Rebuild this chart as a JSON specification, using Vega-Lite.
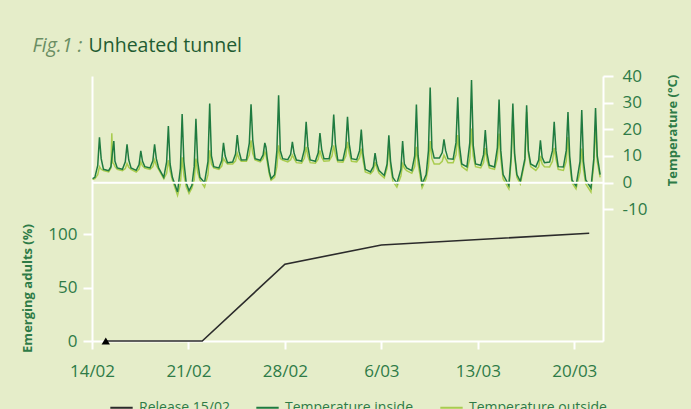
{
"$schema":"https://vega.github.io/schema/vega-lite/v6.json",
"width":511,"height":265,
"autosize":{"type":"none"},
"padding":{"left":92,"top":76,"right":88,"bottom":68},
"background":"#e5edc9",
"config":{"view":{"stroke":null},"font":"Open Sans",
"legend":{"orient":"none","legendX":17,"legendY":319,"direction":"horizontal","title":null,"labelFont":"Open Sans","labelFontSize":14,"labelColor":"#2e7b47","symbolType":"stroke","symbolSize":500,"symbolStrokeWidth":2,"columnPadding":22,"labelOffset":5}},
"datasets":{
"temp":[
{"t":"2020-02-14T01:00","i":1.5,"o":1.2},{"t":"2020-02-14T05:00","i":2.0,"o":1.5},{"t":"2020-02-14T10:00","i":6.5,"o":3.0},{"t":"2020-02-14T13:00","i":17.0,"o":6.0},{"t":"2020-02-14T16:00","i":9.0,"o":5.0},{"t":"2020-02-14T20:00","i":5.0,"o":4.5},
{"t":"2020-02-15T05:00","i":4.5,"o":4.0},{"t":"2020-02-15T09:00","i":6.0,"o":5.5},{"t":"2020-02-15T10:30","i":9.0,"o":18.5},{"t":"2020-02-15T12:00","i":12.0,"o":7.5},{"t":"2020-02-15T14:00","i":15.6,"o":7.0},{"t":"2020-02-15T16:00","i":8.0,"o":6.0},{"t":"2020-02-15T20:00","i":5.5,"o":5.0},
{"t":"2020-02-16T05:00","i":5.0,"o":4.5},{"t":"2020-02-16T10:00","i":7.8,"o":5.3},{"t":"2020-02-16T13:00","i":14.4,"o":7.2},{"t":"2020-02-16T16:00","i":8.5,"o":5.8},{"t":"2020-02-16T20:00","i":5.5,"o":5.0},
{"t":"2020-02-17T05:00","i":4.6,"o":4.0},{"t":"2020-02-17T10:00","i":6.8,"o":5.1},{"t":"2020-02-17T13:00","i":11.9,"o":7.7},{"t":"2020-02-17T16:00","i":8.0,"o":6.3},{"t":"2020-02-17T20:00","i":6.0,"o":5.5},
{"t":"2020-02-18T05:00","i":5.5,"o":5.0},{"t":"2020-02-18T10:00","i":8.2,"o":6.0},{"t":"2020-02-18T13:00","i":14.4,"o":8.5},{"t":"2020-02-18T16:00","i":9.0,"o":6.5},{"t":"2020-02-18T20:00","i":5.5,"o":5.0},
{"t":"2020-02-19T05:00","i":2.0,"o":1.5},{"t":"2020-02-19T10:00","i":7.8,"o":3.5},{"t":"2020-02-19T13:00","i":21.2,"o":8.4},{"t":"2020-02-19T16:00","i":7.0,"o":4.5},{"t":"2020-02-19T20:00","i":2.0,"o":1.0},
{"t":"2020-02-20T05:00","i":-3.5,"o":-4.8},{"t":"2020-02-20T10:00","i":5.5,"o":-0.5},{"t":"2020-02-20T13:00","i":25.7,"o":9.5},{"t":"2020-02-20T16:00","i":8.0,"o":3.0},{"t":"2020-02-20T20:00","i":0.0,"o":-1.5},
{"t":"2020-02-21T01:00","i":-3.0,"o":-4.1},{"t":"2020-02-21T06:00","i":-1.0,"o":-2.0},{"t":"2020-02-21T10:00","i":6.0,"o":1.0},{"t":"2020-02-21T13:00","i":24.0,"o":9.0},{"t":"2020-02-21T16:00","i":8.0,"o":4.0},{"t":"2020-02-21T20:00","i":2.0,"o":1.0},
{"t":"2020-02-22T04:00","i":0.0,"o":-1.7},{"t":"2020-02-22T10:00","i":8.0,"o":3.0},{"t":"2020-02-22T13:00","i":29.7,"o":12.1},{"t":"2020-02-22T16:00","i":10.0,"o":7.0},{"t":"2020-02-22T20:00","i":6.0,"o":5.5},
{"t":"2020-02-23T05:00","i":5.5,"o":5.0},{"t":"2020-02-23T10:00","i":8.3,"o":6.2},{"t":"2020-02-23T13:00","i":14.9,"o":9.0},{"t":"2020-02-23T16:00","i":10.0,"o":8.0},{"t":"2020-02-23T20:00","i":7.5,"o":7.0},
{"t":"2020-02-24T05:00","i":7.7,"o":7.0},{"t":"2020-02-24T10:00","i":10.7,"o":8.2},{"t":"2020-02-24T13:00","i":17.8,"o":11.0},{"t":"2020-02-24T16:00","i":11.8,"o":9.0},{"t":"2020-02-24T20:00","i":8.5,"o":8.0},
{"t":"2020-02-25T05:00","i":8.6,"o":8.0},{"t":"2020-02-25T10:00","i":14.8,"o":10.4},{"t":"2020-02-25T13:00","i":29.4,"o":15.9},{"t":"2020-02-25T16:00","i":16.0,"o":11.0},{"t":"2020-02-25T20:00","i":9.0,"o":8.5},
{"t":"2020-02-26T05:00","i":8.4,"o":7.8},{"t":"2020-02-26T10:00","i":10.4,"o":9.0},{"t":"2020-02-26T13:00","i":14.9,"o":11.5},{"t":"2020-02-26T15:00","i":13.3,"o":10.5},{"t":"2020-02-26T17:00","i":9.5,"o":8.0},{"t":"2020-02-26T21:00","i":4.0,"o":3.0},
{"t":"2020-02-27T00:00","i":1.5,"o":0.9},{"t":"2020-02-27T06:00","i":3.0,"o":2.0},{"t":"2020-02-27T10:00","i":12.0,"o":6.0},{"t":"2020-02-27T13:00","i":32.8,"o":14.0},{"t":"2020-02-27T16:00","i":12.0,"o":9.0},{"t":"2020-02-27T20:00","i":9.0,"o":8.5},
{"t":"2020-02-28T05:00","i":8.6,"o":7.8},{"t":"2020-02-28T10:00","i":10.6,"o":8.6},{"t":"2020-02-28T13:00","i":15.3,"o":10.3},{"t":"2020-02-28T16:00","i":11.0,"o":9.0},{"t":"2020-02-28T20:00","i":8.5,"o":7.5},
{"t":"2020-02-29T05:00","i":8.1,"o":7.3},{"t":"2020-02-29T10:00","i":12.5,"o":9.2},{"t":"2020-02-29T13:00","i":22.8,"o":13.4},{"t":"2020-02-29T16:00","i":13.5,"o":10.0},{"t":"2020-02-29T20:00","i":8.5,"o":7.5},
{"t":"2020-03-01T05:00","i":8.0,"o":7.3},{"t":"2020-03-01T10:00","i":11.2,"o":8.8},{"t":"2020-03-01T13:00","i":18.6,"o":12.1},{"t":"2020-03-01T16:00","i":12.5,"o":9.5},{"t":"2020-03-01T20:00","i":9.0,"o":8.0},
{"t":"2020-03-02T05:00","i":9.0,"o":8.2},{"t":"2020-03-02T10:00","i":14.0,"o":10.0},{"t":"2020-03-02T13:00","i":25.5,"o":14.0},{"t":"2020-03-02T16:00","i":14.5,"o":10.5},{"t":"2020-03-02T20:00","i":8.5,"o":7.8},
{"t":"2020-03-03T05:00","i":8.4,"o":7.7},{"t":"2020-03-03T10:00","i":13.3,"o":10.0},{"t":"2020-03-03T13:00","i":24.7,"o":15.3},{"t":"2020-03-03T16:00","i":14.5,"o":11.0},{"t":"2020-03-03T20:00","i":9.0,"o":8.0},
{"t":"2020-03-04T05:00","i":8.6,"o":7.8},{"t":"2020-03-04T10:00","i":12.0,"o":9.3},{"t":"2020-03-04T13:00","i":19.9,"o":12.8},{"t":"2020-03-04T16:00","i":11.0,"o":8.5},{"t":"2020-03-04T20:00","i":5.0,"o":4.0},
{"t":"2020-03-05T05:00","i":4.0,"o":3.3},{"t":"2020-03-05T10:00","i":6.0,"o":4.5},{"t":"2020-03-05T13:00","i":11.1,"o":7.7},{"t":"2020-03-05T16:00","i":7.0,"o":5.5},{"t":"2020-03-05T20:00","i":4.5,"o":3.5},
{"t":"2020-03-06T05:00","i":2.7,"o":1.8},{"t":"2020-03-06T10:00","i":7.0,"o":5.5},{"t":"2020-03-06T13:00","i":17.8,"o":14.7},{"t":"2020-03-06T16:00","i":8.0,"o":6.0},{"t":"2020-03-06T20:00","i":2.0,"o":0.5},
{"t":"2020-03-07T03:00","i":-0.3,"o":-1.7},{"t":"2020-03-07T10:00","i":5.0,"o":2.5},{"t":"2020-03-07T13:00","i":15.6,"o":7.0},{"t":"2020-03-07T16:00","i":7.0,"o":5.5},{"t":"2020-03-07T20:00","i":5.5,"o":4.5},
{"t":"2020-03-08T05:00","i":4.5,"o":3.5},{"t":"2020-03-08T10:00","i":10.0,"o":6.0},{"t":"2020-03-08T13:00","i":29.3,"o":13.4},{"t":"2020-03-08T16:00","i":10.0,"o":7.0},{"t":"2020-03-08T23:00","i":-0.5,"o":-1.9},
{"t":"2020-03-09T06:00","i":3.0,"o":1.5},{"t":"2020-03-09T10:00","i":12.0,"o":6.0},{"t":"2020-03-09T13:00","i":35.7,"o":15.6},{"t":"2020-03-09T16:00","i":13.0,"o":9.0},{"t":"2020-03-09T20:00","i":9.2,"o":7.0},
{"t":"2020-03-10T05:00","i":9.2,"o":7.0},{"t":"2020-03-10T10:00","i":11.3,"o":8.0},{"t":"2020-03-10T13:00","i":16.2,"o":10.3},{"t":"2020-03-10T16:00","i":12.0,"o":9.0},{"t":"2020-03-10T20:00","i":9.0,"o":7.5},
{"t":"2020-03-11T05:00","i":8.8,"o":7.5},{"t":"2020-03-11T10:00","i":15.0,"o":10.5},{"t":"2020-03-11T13:00","i":32.0,"o":17.8},{"t":"2020-03-11T16:00","i":14.0,"o":10.0},{"t":"2020-03-11T20:00","i":7.0,"o":6.0},
{"t":"2020-03-12T05:00","i":5.9,"o":4.6},{"t":"2020-03-12T10:00","i":15.0,"o":9.0},{"t":"2020-03-12T13:00","i":38.5,"o":20.3},{"t":"2020-03-12T16:00","i":14.0,"o":10.0},{"t":"2020-03-12T20:00","i":7.0,"o":6.0},
{"t":"2020-03-13T05:00","i":6.5,"o":5.5},{"t":"2020-03-13T10:00","i":10.5,"o":7.5},{"t":"2020-03-13T13:00","i":19.7,"o":13.0},{"t":"2020-03-13T16:00","i":11.0,"o":8.5},{"t":"2020-03-13T20:00","i":6.5,"o":5.5},
{"t":"2020-03-14T05:00","i":5.9,"o":5.0},{"t":"2020-03-14T10:00","i":13.0,"o":9.0},{"t":"2020-03-14T13:00","i":31.2,"o":18.4},{"t":"2020-03-14T16:00","i":12.0,"o":9.0},{"t":"2020-03-14T20:00","i":3.0,"o":1.5},
{"t":"2020-03-15T06:00","i":-1.0,"o":-2.3},{"t":"2020-03-15T10:00","i":10.0,"o":8.0},{"t":"2020-03-15T13:00","i":29.7,"o":25.9},{"t":"2020-03-15T16:00","i":11.0,"o":10.0},{"t":"2020-03-15T20:00","i":3.0,"o":2.0},
{"t":"2020-03-16T02:00","i":0.5,"o":-0.5},{"t":"2020-03-16T10:00","i":9.0,"o":8.0},{"t":"2020-03-16T13:00","i":29.0,"o":26.5},{"t":"2020-03-16T16:00","i":12.0,"o":11.0},{"t":"2020-03-16T20:00","i":7.0,"o":6.0},
{"t":"2020-03-17T05:00","i":5.9,"o":4.6},{"t":"2020-03-17T10:00","i":8.5,"o":6.0},{"t":"2020-03-17T13:00","i":15.9,"o":10.0},{"t":"2020-03-17T16:00","i":9.5,"o":7.0},{"t":"2020-03-17T20:00","i":7.5,"o":6.0},
{"t":"2020-03-18T05:00","i":7.7,"o":5.9},{"t":"2020-03-18T10:00","i":12.0,"o":8.0},{"t":"2020-03-18T13:00","i":22.8,"o":13.0},{"t":"2020-03-18T16:00","i":12.0,"o":9.0},{"t":"2020-03-18T20:00","i":6.0,"o":5.0},
{"t":"2020-03-19T05:00","i":5.9,"o":4.6},{"t":"2020-03-19T10:00","i":12.0,"o":8.0},{"t":"2020-03-19T13:00","i":26.5,"o":17.1},{"t":"2020-03-19T16:00","i":10.0,"o":7.0},{"t":"2020-03-19T20:00","i":1.0,"o":0.0},
{"t":"2020-03-20T03:00","i":-1.2,"o":-2.3},{"t":"2020-03-20T10:00","i":8.0,"o":4.0},{"t":"2020-03-20T13:00","i":27.2,"o":12.8},{"t":"2020-03-20T16:00","i":8.0,"o":5.0},{"t":"2020-03-20T20:00","i":1.0,"o":-0.5},
{"t":"2020-03-21T05:00","i":-2.0,"o":-3.5},{"t":"2020-03-21T10:00","i":9.0,"o":7.0},{"t":"2020-03-21T13:00","i":28.0,"o":21.5},{"t":"2020-03-21T16:00","i":10.0,"o":8.0},{"t":"2020-03-21T21:00","i":3.0,"o":2.0}
],
"rel":[{"d":"2020-02-15T00:00","v":0},{"d":"2020-02-22T00:00","v":0},{"d":"2020-02-28T00:00","v":72},{"d":"2020-03-06T00:00","v":90},{"d":"2020-03-21T02:00","v":101}],
"mk":[{"d":"2020-02-15T00:00","v":0}]
},
"layer":[
{"data":{"name":"temp"},"mark":{"type":"line","strokeWidth":1.5},
"encoding":{
"x":{"field":"t","type":"temporal","scale":{"domain":[{"year":2020,"month":2,"date":14,"hours":0},{"year":2020,"month":3,"date":22,"hours":2}]},
"axis":{"orient":"top","title":"Fig.1 :","titleX":-60,"titleY":-25,"titleAlign":"left","titleBaseline":"alphabetic","titleFont":"Open Sans","titleFontStyle":"italic","titleFontWeight":"normal","titleFontSize":19.5,"titleColor":"#6a8e63","labels":false,"ticks":false,"domain":false,"grid":false}},
"y":{"field":"o","type":"quantitative","scale":{"domain":[-59.4,40],"nice":false,"zero":false},
"axis":{"orient":"right","values":[-10,0,10,20,30,40],"labelExpr":"replace(datum.label,'\u2212','-')","title":"Temperature (°C)","titleX":69,"titleY":54,"titleAngle":-90,"titleAlign":"center","titleBaseline":"middle","titleFont":"Open Sans","titleFontSize":13,"titleFontWeight":"bold","titleColor":"#2e7b47","domainColor":"white","domainWidth":2,"tickColor":"white","tickWidth":2,"tickSize":10,"labelPadding":9,"labelFont":"Open Sans","labelFontSize":17,"labelColor":"#2e7b47","labelFlush":false,"grid":false}},
"color":{"datum":"Temperature outside","type":"nominal","scale":{"domain":["Release 15/02","Temperature inside","Temperature outside"],"range":["#2b2b2b","#1f7b40","#a9cc4f"]}}
}},
{"data":{"name":"temp"},"mark":{"type":"line","strokeWidth":1.5},
"encoding":{
"x":{"field":"t","type":"temporal","scale":{"domain":[{"year":2020,"month":2,"date":14,"hours":0},{"year":2020,"month":3,"date":22,"hours":2}]},"axis":null},
"y":{"field":"i","type":"quantitative","scale":{"domain":[-59.4,40],"nice":false,"zero":false},"axis":null},
"color":{"datum":"Temperature inside","type":"nominal","scale":{"domain":["Release 15/02","Temperature inside","Temperature outside"],"range":["#2b2b2b","#1f7b40","#a9cc4f"]}}
}},
{"data":{"name":"mk"},"mark":{"type":"rule","color":"white","strokeWidth":2},
"encoding":{"y":{"datum":0,"type":"quantitative","scale":{"domain":[-59.4,40],"nice":false,"zero":false},"axis":null}}},
{"data":{"name":"rel"},"mark":{"type":"line","strokeWidth":1.6},
"encoding":{
"x":{"field":"d","type":"temporal","scale":{"domain":[{"year":2020,"month":2,"date":14,"hours":0},{"year":2020,"month":3,"date":22,"hours":2}]},
"axis":{"orient":"bottom","values":[{"year":2020,"month":2,"date":14},{"year":2020,"month":2,"date":21},{"year":2020,"month":2,"date":28},{"year":2020,"month":3,"date":6},{"year":2020,"month":3,"date":13},{"year":2020,"month":3,"date":20}],"format":"%-d/%m","labelFont":"Open Sans","labelFontSize":17,"labelColor":"#2e7b47","labelPadding":14,"labelFlush":false,"labelOverlap":false,"tickColor":"white","tickWidth":2,"tickSize":8,"domainColor":"white","domainWidth":2,"grid":false,
"title":"Unheated tunnel","titleX":-4,"titleY":-290,"titleAlign":"left","titleBaseline":"alphabetic","titleFont":"Open Sans","titleFontSize":19.5,"titleFontWeight":"normal","titleColor":"#1f5c32"}},
"y":{"field":"v","type":"quantitative","scale":{"domain":[0,248.4],"nice":false,"zero":false},
"axis":{"orient":"left","values":[0,50,100],"title":"Emerging adults (%)","titleX":-65,"titleY":212,"titleAngle":-90,"titleAlign":"center","titleBaseline":"middle","titleFont":"Open Sans","titleFontSize":13,"titleFontWeight":"bold","titleColor":"#2e7b47","domainColor":"white","domainWidth":2,"tickColor":"white","tickWidth":2,"tickSize":9,"labelPadding":6,"labelFont":"Open Sans","labelFontSize":17,"labelColor":"#2e7b47","labelFlush":false,"grid":false}},
"color":{"datum":"Release 15/02","type":"nominal","scale":{"domain":["Release 15/02","Temperature inside","Temperature outside"],"range":["#2b2b2b","#1f7b40","#a9cc4f"]}}
}},
{"data":{"name":"mk"},"mark":{"type":"point","shape":"triangle-up","filled":true,"color":"black","size":70,"opacity":1},
"encoding":{
"x":{"field":"d","type":"temporal","scale":{"domain":[{"year":2020,"month":2,"date":14,"hours":0},{"year":2020,"month":3,"date":22,"hours":2}]},"axis":null},
"y":{"field":"v","type":"quantitative","scale":{"domain":[0,248.4],"nice":false,"zero":false},"axis":null}
}}
],
"resolve":{"scale":{"y":"independent"},"axis":{"x":"independent","y":"independent"}}
}
